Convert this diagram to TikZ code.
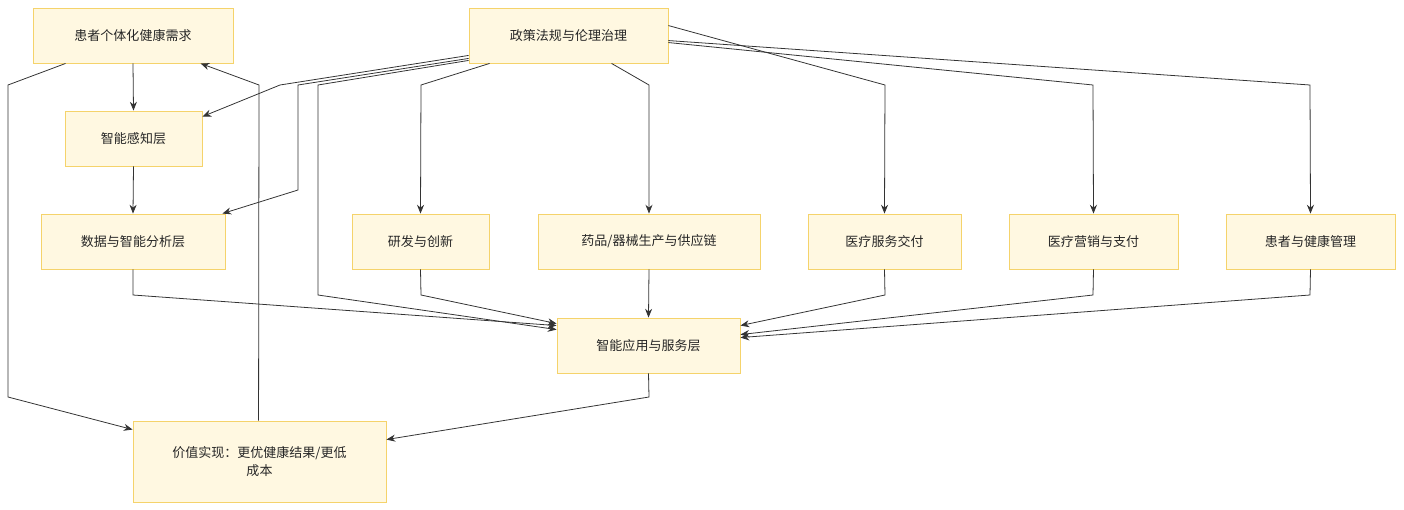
\documentclass[tikz,border=0pt]{standalone}
\usepackage{fontspec}
\setmainfont{Noto Sans CJK SC}
\usetikzlibrary{arrows.meta}
\definecolor{boxfill}{HTML}{FFF8E1}
\definecolor{boxline}{HTML}{F5D36B}
\definecolor{edge}{HTML}{333333}
\begin{document}
\begin{tikzpicture}[x=0.2mm,y=-0.2mm,
  box/.style={draw=boxline,fill=boxfill,line width=0.5pt,inner sep=0pt,font=\fontsize{7.4}{10}\selectfont,text=black!85,align=center},
  conn/.style={draw=edge,line width=0.45pt,-{Stealth[length=5pt,width=4pt]}}]
\useasboundingbox (0,0) rectangle (1404,510);
\newcommand{\bx}[6]{\node[box,minimum width=#4*0.2mm,minimum height=#5*0.2mm] (#1) at (#2,#3) {#6};}
\bx{A}{133}{35.5}{200}{55}{患者个体化健康需求}
\bx{P}{568.5}{35.5}{199}{55}{政策法规与伦理治理}
\bx{S}{133.5}{138.5}{137}{55}{智能感知层}
\bx{D}{133}{241.5}{184}{55}{数据与智能分析层}
\bx{R}{420.5}{241.5}{137}{55}{研发与创新}
\bx{M}{649}{241.5}{222}{55}{药品/器械生产与供应链}
\bx{Y}{884.5}{241.5}{153}{55}{医疗服务交付}
\bx{Ma}{1093.5}{241.5}{169}{55}{医疗营销与支付}
\bx{H}{1310.5}{241.5}{169}{55}{患者与健康管理}
\bx{App}{648.5}{345.5}{183}{55}{智能应用与服务层}
\bx{V}{259.5}{461.5}{253}{81}{价值实现：更优健康结果/更低\\成本}
\draw[conn] (A.south) -- (S.north);
\draw[conn] (S.south) -- (D.north);
\draw[conn] ([xshift=6.6mm]A.south west) -- (8,85) -- (8,397) -- ([yshift=-1.8mm]V.north west);
\draw[conn] ([xshift=25.2mm]V.north west) -- (259,85) -- ([xshift=33.6mm]A.south west);
\draw[conn] ([yshift=1.6mm]P.south west) -- (280,85) -- ([yshift=-1.2mm]S.north east);
\draw[conn] ([yshift=1mm]P.south west) -- (298,85) -- (298,190) -- ([xshift=-0.6mm]D.north east);
\draw[conn] ([yshift=0.6mm]P.south west) -- (318,85) -- (318,295) -- ([yshift=-2.4mm]App.north west);
\draw[conn] ([xshift=4.2mm]P.south west) -- (421,85) -- (R.north);
\draw[conn] ([xshift=28.6mm]P.south west) -- (649,85) -- (M.north);
\draw[conn] ([yshift=-3.6mm]P.north east) -- (885,85) -- (Y.north);
\draw[conn] ([yshift=-7mm]P.north east) -- (1093,85) -- (Ma.north);
\draw[conn] ([yshift=-6.6mm]P.north east) -- (1310,85) -- (H.north);
\draw[conn] (D.south) -- (133,295) -- ([yshift=-1.6mm]App.north west);
\draw[conn] (R.south) -- (421,295) -- ([yshift=-1.2mm]App.north west);
\draw[conn] (M.south) -- (App.north);
\draw[conn] (Y.south) -- (885,295) -- ([yshift=-1.6mm]App.north east);
\draw[conn] (Ma.south) -- (1093,295) -- ([yshift=-3.4mm]App.north east);
\draw[conn] (H.south) -- (1310,295) -- ([yshift=-4mm]App.north east);
\draw[conn] (App.south) -- (649,397) -- ([yshift=-3.8mm]V.north east);
\end{tikzpicture}
\end{document}
